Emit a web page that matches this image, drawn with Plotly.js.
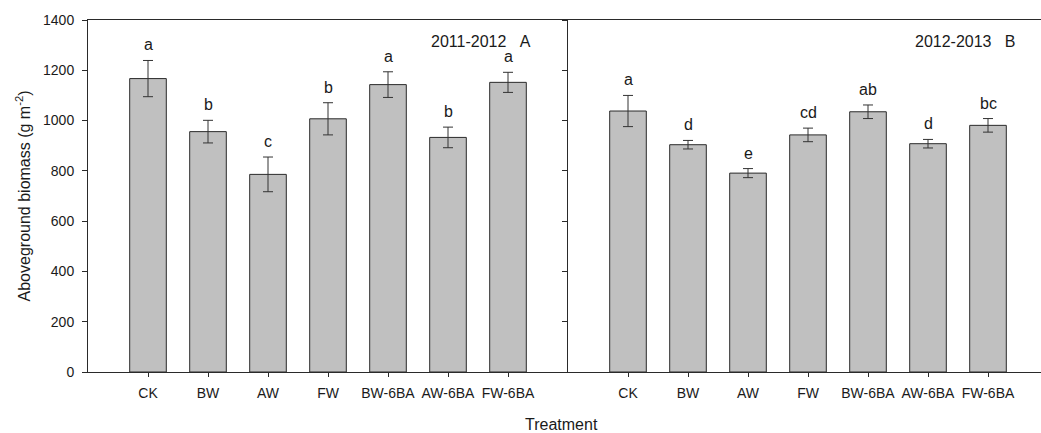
<!DOCTYPE html>
<html>
<head>
<meta charset="utf-8">
<script src="https://cdn.plot.ly/plotly-3.0.1.min.js"></script>
<style>html,body{margin:0;padding:0;background:#fff;}#chart{width:1041px;height:433px;}</style>
</head>
<body>
<div id="chart"></div>
<script>
const treatments = ['CK', 'BW', 'AW', 'FW', 'BW-6BA', 'AW-6BA', 'FW-6BA'];
const meanA = [1167, 956, 786, 1007, 1143, 933, 1152];
const errA  = [72, 45, 69, 64, 51, 41, 40];
const letA  = ['a', 'b', 'c', 'b', 'a', 'b', 'a'];
const meanB = [1038, 904, 791, 943, 1035, 908, 981];
const errB  = [62, 17, 18, 27, 27, 17, 27];
const letB  = ['a', 'd', 'e', 'cd', 'ab', 'd', 'bc'];
const panelA = '2011-2012&nbsp;&nbsp;&nbsp;A';
const panelB = '2012-2013&nbsp;&nbsp;&nbsp;B';

const W = 1041, H = 433, L = 88, T = 20, B = 61;
const plotW = W - L;
const splitFrac = 480 / plotW;
const font = 'Liberation Sans, Arial, sans-serif';
const ink = '#1a1a1a';

function barTrace(mean, err, xa, ya) {
  return {
    type: 'bar', x: treatments, y: mean, xaxis: xa, yaxis: ya,
    width: 0.61,
    marker: {color: '#c0c0c0', line: {color: '#2a2a2a', width: 1}},
    error_y: {type: 'data', array: err, visible: true, color: '#333', thickness: 1, width: 5},
    hoverinfo: 'skip', showlegend: false
  };
}

const annotations = [];
function letters(mean, err, lets, xr, yr) {
  lets.forEach((t, i) => annotations.push({
    x: treatments[i], y: mean[i] + err[i], xref: xr, yref: yr, text: t,
    showarrow: false, yanchor: 'bottom', yshift: 5,
    font: {family: font, size: 16, color: ink}
  }));
}
letters(meanA, errA, letA, 'x', 'y');
letters(meanB, errB, letB, 'x2', 'y2');

annotations.push({xref: 'paper', yref: 'paper', x: (533 - L) / plotW, y: 1 - (41.7 - T) / (H - T - B),
  xanchor: 'right', yanchor: 'middle', text: panelA, showarrow: false, font: {family: font, size: 16, color: ink}});
annotations.push({xref: 'paper', yref: 'paper', x: (1018 - L) / plotW, y: 1 - (41.7 - T) / (H - T - B),
  xanchor: 'right', yanchor: 'middle', text: panelB, showarrow: false, font: {family: font, size: 16, color: ink}});
annotations.push({xref: 'paper', yref: 'paper', x: (561 - L) / plotW, y: -(424.5 - (H - B)) / (H - T - B),
  xanchor: 'center', yanchor: 'middle', text: 'Treatment', showarrow: false, font: {family: font, size: 16, color: ink}});

const xCommon = {
  type: 'category', showline: true, linecolor: '#2a2a2a', linewidth: 1, mirror: true,
  ticks: 'outside', ticklen: 4, tickcolor: '#2a2a2a', showgrid: false, zeroline: false,
  ticklabelstandoff: 4,
  tickfont: {family: font, size: 14, color: ink}, fixedrange: true
};
const yCommon = {
  range: [0, 1400], dtick: 200, showline: true, linecolor: '#2a2a2a', linewidth: 1,
  ticks: 'outside', ticklen: 5, tickcolor: '#2a2a2a', showgrid: false, zeroline: false,
  tickfont: {family: font, size: 14, color: ink}, fixedrange: true
};

const layout = {
  width: W, height: H,
  margin: {l: L, r: 0, t: T, b: B},
  paper_bgcolor: '#fff', plot_bgcolor: '#fff',
  xaxis: Object.assign({}, xCommon, {domain: [0, splitFrac], range: [-1, 7], anchor: 'y'}),
  xaxis2: Object.assign({}, xCommon, {domain: [splitFrac, 1], range: [-1, 7 - (1048 - W) / 60], anchor: 'y2'}),
  yaxis: Object.assign({}, yCommon, {anchor: 'x', ticklabelstandoff: 5,
    title: {text: 'Aboveground biomass (g m<sup>-2</sup>)', font: {family: font, size: 16, color: ink}, standoff: 8}}),
  yaxis2: Object.assign({}, yCommon, {anchor: 'x2', matches: 'y', showticklabels: false}),
  annotations: annotations
};

Plotly.newPlot('chart', [barTrace(meanA, errA, 'x', 'y'), barTrace(meanB, errB, 'x2', 'y2')], layout,
  {staticPlot: true, displayModeBar: false});
</script>
</body>
</html>
